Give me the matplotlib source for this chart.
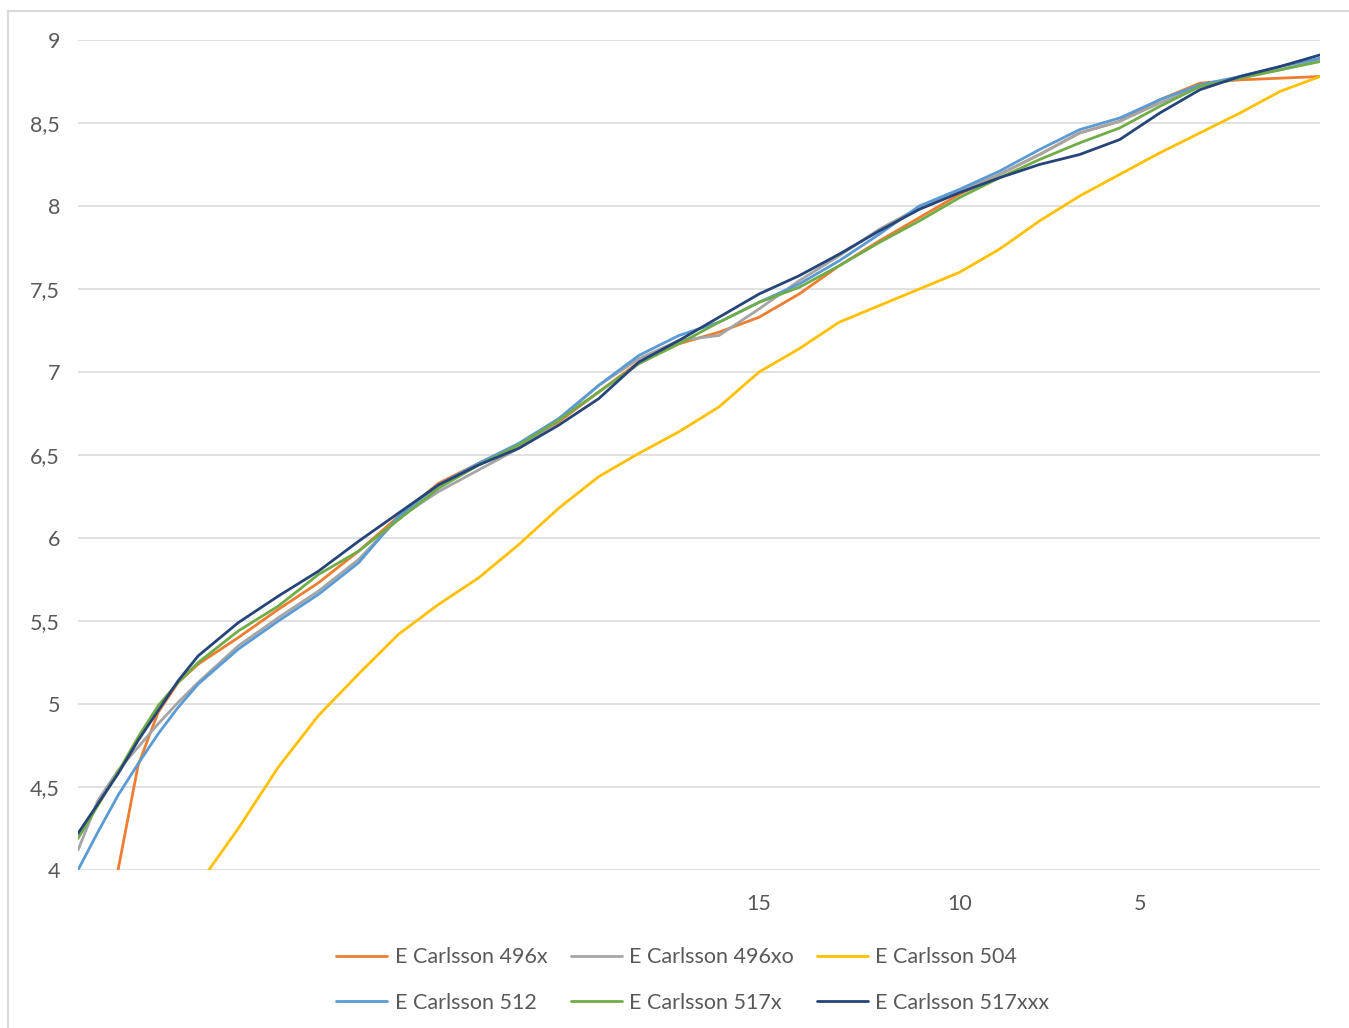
import matplotlib
matplotlib.use("Agg")
import matplotlib.pyplot as plt
from matplotlib.lines import Line2D
from matplotlib.ticker import FuncFormatter

plt.rcParams['font.family'] = ['Lato', 'DejaVu Sans']

# category index of each sampled point (the chart has 63 categories, 0..62)
idx = [0, 1, 2, 3, 4, 5, 6] + list(range(8, 63, 2))

# only three category labels are shown on the x axis
tick_pos = [34, 44, 53]
tick_lbl = ['15', '10', '5']

s496x = [2.70, 3.35, 4.00, 4.63, 4.95, 5.13, 5.24, 5.40, 5.57, 5.73, 5.92, 6.13,
         6.33, 6.45, 6.56, 6.70, 6.88, 7.06, 7.17, 7.24, 7.33, 7.47, 7.64, 7.79,
         7.93, 8.07, 8.19, 8.31, 8.44, 8.51, 8.64, 8.74, 8.76, 8.77, 8.78]
s496xo = [4.12, 4.42, 4.60, 4.74, 4.88, 5.01, 5.13, 5.35, 5.52, 5.68, 5.87, 6.12,
          6.28, 6.41, 6.54, 6.71, 6.92, 7.08, 7.19, 7.22, 7.38, 7.55, 7.70, 7.86,
          7.99, 8.09, 8.19, 8.31, 8.44, 8.51, 8.62, 8.72, 8.77, 8.82, 8.88]
s504 = [2.85, 3.03, 3.21, 3.39, 3.56, 3.74, 3.91, 4.25, 4.62, 4.93, 5.18, 5.42,
        5.60, 5.76, 5.96, 6.18, 6.37, 6.51, 6.64, 6.79, 7.00, 7.14, 7.30, 7.40,
        7.50, 7.60, 7.74, 7.91, 8.06, 8.19, 8.32, 8.44, 8.56, 8.69, 8.78]
s512 = [4.00, 4.23, 4.45, 4.64, 4.82, 4.98, 5.12, 5.33, 5.50, 5.66, 5.85, 6.13,
        6.32, 6.45, 6.57, 6.72, 6.92, 7.10, 7.22, 7.30, 7.42, 7.53, 7.67, 7.83,
        8.00, 8.10, 8.21, 8.34, 8.46, 8.53, 8.64, 8.73, 8.78, 8.84, 8.89]
s517x = [4.19, 4.39, 4.59, 4.80, 4.99, 5.13, 5.25, 5.44, 5.59, 5.78, 5.92, 6.11,
         6.30, 6.44, 6.56, 6.71, 6.88, 7.05, 7.17, 7.30, 7.42, 7.51, 7.64, 7.78,
         7.91, 8.05, 8.17, 8.28, 8.38, 8.47, 8.60, 8.72, 8.77, 8.82, 8.87]
s517xxx = [4.22, 4.40, 4.58, 4.78, 4.96, 5.14, 5.29, 5.49, 5.65, 5.80, 5.98, 6.15,
           6.32, 6.44, 6.54, 6.68, 6.84, 7.06, 7.19, 7.33, 7.47, 7.58, 7.71, 7.85,
           7.98, 8.08, 8.17, 8.25, 8.31, 8.40, 8.56, 8.70, 8.78, 8.84, 8.91]

names = ['E Carlsson 496x', 'E Carlsson 496xo', 'E Carlsson 504',
         'E Carlsson 512', 'E Carlsson 517x', 'E Carlsson 517xxx']
series = [s496x, s496xo, s504, s512, s517x, s517xxx]
colors = ['#ED7D31', '#A5A5A5', '#FFC000', '#5B9BD5', '#70AD47', '#264478']

fig = plt.figure(figsize=(13.49, 10.28), dpi=100)
ax = fig.add_axes([78 / 1349, 1 - 870 / 1028, (1320 - 78) / 1349, (870 - 40) / 1028])

lines = []
for s, n, c in zip(series, names, colors):
    ln, = ax.plot(idx, s, color=c, lw=2.0, label=n,
                  solid_capstyle='round', solid_joinstyle='round')
    lines.append(ln)

ax.set_xlim(0, 62)
ax.set_ylim(4, 9)
ax.set_yticks([4, 4.5, 5, 5.5, 6, 6.5, 7, 7.5, 8, 8.5, 9])
ax.yaxis.set_major_formatter(FuncFormatter(lambda v, p: ('%g' % v).replace('.', ',')))
ax.set_xticks(tick_pos)
ax.set_xticklabels(tick_lbl)
ax.tick_params(axis='both', length=0, labelsize=15.5, labelcolor='#595959')
ax.tick_params(axis='y', pad=13)
ax.tick_params(axis='x', pad=17)
ax.grid(axis='y', color='#D9D9D9', lw=1.1)
ax.set_axisbelow(True)
for sp in ax.spines.values():
    sp.set_visible(False)

# legend: matplotlib fills columns first, so reorder to get Excel's row order
order = [0, 3, 1, 4, 2, 5]
ax.legend([lines[i] for i in order], [names[i] for i in order], ncol=3,
          loc='center', bbox_to_anchor=(693 / 1349, 1 - 980 / 1028),
          bbox_transform=fig.transFigure, frameon=False, fontsize=15.5,
          labelcolor='#595959', handlelength=2.37, handletextpad=0.33,
          columnspacing=1.1, labelspacing=1.2)

# chart area border (top and left edges visible in the crop)
fig.add_artist(Line2D([8 / 1349, 8 / 1349], [0, 1 - 11 / 1028], color='#D9D9D9', lw=1.5))
fig.add_artist(Line2D([8 / 1349, 1], [1 - 11 / 1028, 1 - 11 / 1028], color='#D9D9D9', lw=1.5))

fig.savefig('out.png', dpi=100)
